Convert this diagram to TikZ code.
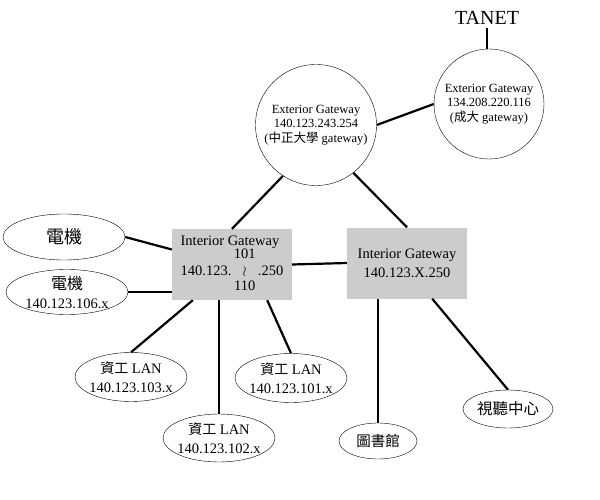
\documentclass[tikz,border=0pt]{standalone}
\usepackage{fontspec}
\setmainfont{Liberation Serif}
\newfontfamily\cjk{Noto Sans CJK TC}
\usetikzlibrary{shapes.geometric,positioning}

\begin{document}
\begin{tikzpicture}[x=1pt,y=-1pt,
  extgw/.style={circle,draw,thin,inner sep=0pt,align=center,font=\fontsize{12.5}{14.5}\selectfont},
  intgw/.style={rectangle,fill=black!20,inner sep=0pt,minimum width=120pt,minimum height=71pt},
  lan/.style={ellipse,draw,thin,inner xsep=-6pt,inner ysep=-4pt,align=center,font=\fontsize{14.5}{19}\selectfont},
  link/.style={line width=2.2pt}]
\useasboundingbox (0,0) rectangle (600,500);

% Exterior gateways
\node[font=\fontsize{20}{22}\selectfont] (tanet) at (487,18) {TANET};
\node[extgw,minimum size=110pt] (ext2) at (489,104) {Exterior Gateway\\134.208.220.116\\({\cjk 成大} gateway)};
\node[extgw,minimum size=121pt] (ext1) at (316,125) {Exterior Gateway\\140.123.243.254\\({\cjk 中正大學} gateway)};

% Interior gateways
\node[intgw] (ib1) at (232,264.5) {\fontsize{14.5}{16}\selectfont
  \begin{tabular}{@{}l@{}c@{}l@{}}
  \multicolumn{3}{@{}l@{}}{Interior Gateway}\\[-3pt]
  & 101 & \\[1pt]
  140.123.\, & $\wr$ & \,.250\\[-1pt]
  & 110 &
  \end{tabular}};
\node[intgw,align=center,font=\fontsize{14.5}{19}\selectfont] (ib2) at (407,263) {Interior Gateway\\140.123.X.250};

% LANs
\node[lan,minimum width=122pt,minimum height=46pt,font=\cjk\fontsize{18}{20}\selectfont] (ee1) at (64,237) {電機};
\node[lan,minimum width=122pt,minimum height=45pt] (ee2) at (67,292) {{\cjk\fontsize{16}{18}\selectfont 電機}\\140.123.106.x};
\node[lan,minimum width=112pt,minimum height=49pt] (cs103) at (131,377) {{\cjk\fontsize{14}{16}\selectfont 資工} LAN\\140.123.103.x};
\node[lan,minimum width=112pt,minimum height=49pt] (cs101) at (291,378) {{\cjk\fontsize{14}{16}\selectfont 資工} LAN\\140.123.101.x};
\node[lan,minimum width=112pt,minimum height=48pt] (cs102) at (219,438) {{\cjk\fontsize{14}{16}\selectfont 資工} LAN\\140.123.102.x};
\node[lan,minimum width=78pt,minimum height=36pt,font=\cjk\fontsize{14.5}{16}\selectfont] (lib) at (378,441) {圖書館};
\node[lan,minimum width=90pt,minimum height=38pt,font=\cjk\fontsize{15.5}{17}\selectfont] (av) at (508,409) {視聽中心};

% Links
\draw[link] (tanet) -- (tanet |- ext2.north);
\draw[link] (ext1.east) -- (ext2.west);
\draw[link] (ext1.237) -- (ib1.north);
\draw[link] (ext1.308) -- (ib2.north);
\draw[link] (ib1.east) -- (ib2.west);
\draw[link] (ee1.east) -- (ib1.166);
\draw[link] (ee2.east) -- (ee2.east -| ib1.west);
\draw[link] ([xshift=21pt]ib1.south west) -- (cs103.north);
\draw[link] (cs102.north |- ib1.south) -- (cs102.north);
\draw[link] ([xshift=-25pt]ib1.south east) -- (cs101.north);
\draw[link] (lib.north |- ib2.south) -- (lib.north);
\draw[link] ([xshift=-35pt]ib2.south east) -- (av.north);
\end{tikzpicture}
\end{document}
